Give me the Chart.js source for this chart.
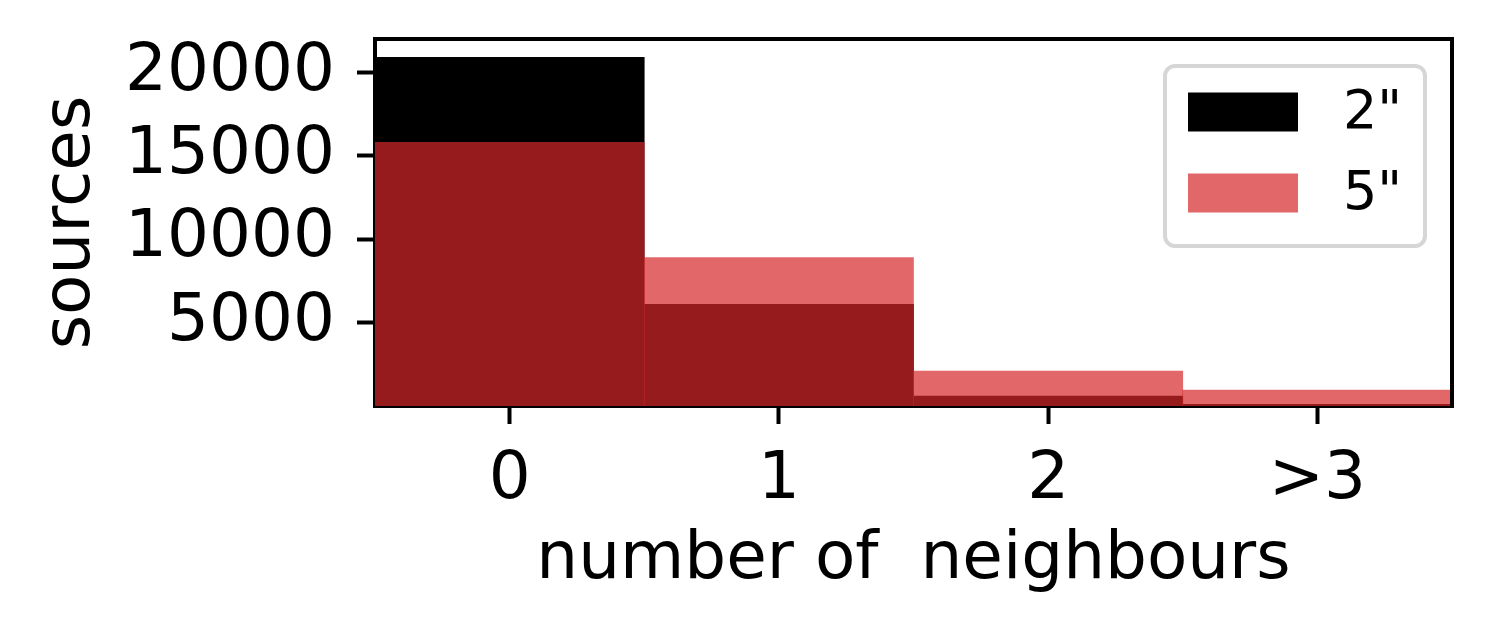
<!DOCTYPE html>
<html>
<head>
<meta charset="utf-8">
<script src="https://cdn.jsdelivr.net/npm/chart.js@4"></script>
<style>
  html, body { margin: 0; padding: 0; background: #fff; }
  #wrap { width: 1492px; height: 635px; }
</style>
</head>
<body>
<div id="wrap"><canvas id="chart"></canvas></div>
<script>
// categories and counts
const categories = ['0', '1', '2', '>3'];
const counts2 = [20900, 6100, 600, 0];     // 2"
const counts5 = [15800, 8900, 2100, 950];  // 5"
const yTicks = [5000, 10000, 15000, 20000];

const fontName = 'DejaVu Sans';
Chart.defaults.font.family = fontName;
Chart.defaults.color = '#000';

// box round plot area (top + right sides; bottom/left come from the axes)
const frame = {
    id: 'frame',
    afterDatasetsDraw(chart) {
        let a = chart.chartArea;
        let ctx = chart.ctx;
        ctx.save();
        ctx.strokeStyle = '#000';
        ctx.lineWidth = 4;
        ctx.lineCap = 'square';
        ctx.beginPath();
        ctx.moveTo(a.left, a.top);
        ctx.lineTo(a.right, a.top);
        ctx.lineTo(a.right, a.bottom);
        ctx.stroke();
        ctx.restore();
    }
};

// matplotlib style legend box inside the plot
const boxLegend = {
    id: 'boxLegend',
    afterDraw(chart) {
        let a = chart.chartArea;
        let ctx = chart.ctx;
        let x0 = a.right - 287, y0 = a.top + 27, w = 260, h = 180;
        ctx.save();
        ctx.fillStyle = 'rgba(255,255,255,0.8)';
        ctx.strokeStyle = '#d6d6d6';
        ctx.lineWidth = 4;
        ctx.beginPath();
        ctx.roundRect(x0, y0, w, h, 10);
        ctx.fill();
        ctx.stroke();
        ctx.font = '54px "' + fontName + '"';
        ctx.textBaseline = 'middle';
        chart.data.datasets.forEach((ds, i) => {
            let cy = y0 + 46 + i * 81;
            ctx.fillStyle = ds.backgroundColor;
            ctx.fillRect(x0 + 23, cy - 19.5, 110, 39);
            ctx.fillStyle = '#000';
            ctx.fillText(ds.label, x0 + 178, cy + 2);
        });
        ctx.restore();
    }
};

new Chart(document.getElementById('chart'), {
    type: 'bar',
    data: {
        labels: categories,
        datasets: [
            {
                label: '2"',
                data: counts2,
                backgroundColor: '#000000',
                borderWidth: 0,
                order: 1
            },
            {
                label: '5"',
                data: counts5,
                backgroundColor: 'rgba(214,39,40,0.7)',
                borderWidth: 0,
                order: 0
            }
        ]
    },
    options: {
        responsive: true,
        maintainAspectRatio: false,
        animation: false,
        layout: { padding: { top: 39, right: 40, left: 0, bottom: 0 } },
        datasets: {
            bar: { grouped: false, categoryPercentage: 1, barPercentage: 1 }
        },
        scales: {
            x: {
                offset: true,
                grid: {
                    offset: false,
                    drawOnChartArea: false,
                    tickLength: 18,
                    tickWidth: 4,
                    tickColor: '#000'
                },
                border: { color: '#000', width: 4 },
                ticks: {
                    font: { size: 66 },
                    padding: 17,
                    maxRotation: 0
                },
                title: {
                    display: true,
                    text: 'number of  neighbours',
                    font: { size: 66 },
                    padding: 35
                },
                afterFit(scale) {
                    scale.height = 229;
                    scale.paddingLeft = 0;
                    scale.paddingRight = 0;
                }
            },
            y: {
                min: 0,
                max: 22000,
                grid: {
                    drawOnChartArea: false,
                    tickLength: 18,
                    tickWidth: 4,
                    tickColor: '#000'
                },
                border: { color: '#000', width: 4 },
                ticks: {
                    font: { size: 66 },
                    padding: 22,
                    callback: function(value) { return String(value); }
                },
                afterBuildTicks(scale) {
                    scale.ticks = yTicks.map(v => ({ value: v }));
                },
                title: {
                    display: true,
                    text: 'sources',
                    font: { size: 66 },
                    padding: 32
                },
                afterFit(scale) {
                    scale.width = 375;
                    scale.paddingTop = 0;
                    scale.paddingBottom = 0;
                }
            }
        },
        plugins: {
            legend: { display: false },
            tooltip: { enabled: false }
        }
    },
    plugins: [frame, boxLegend]
});
</script>
</body>
</html>
